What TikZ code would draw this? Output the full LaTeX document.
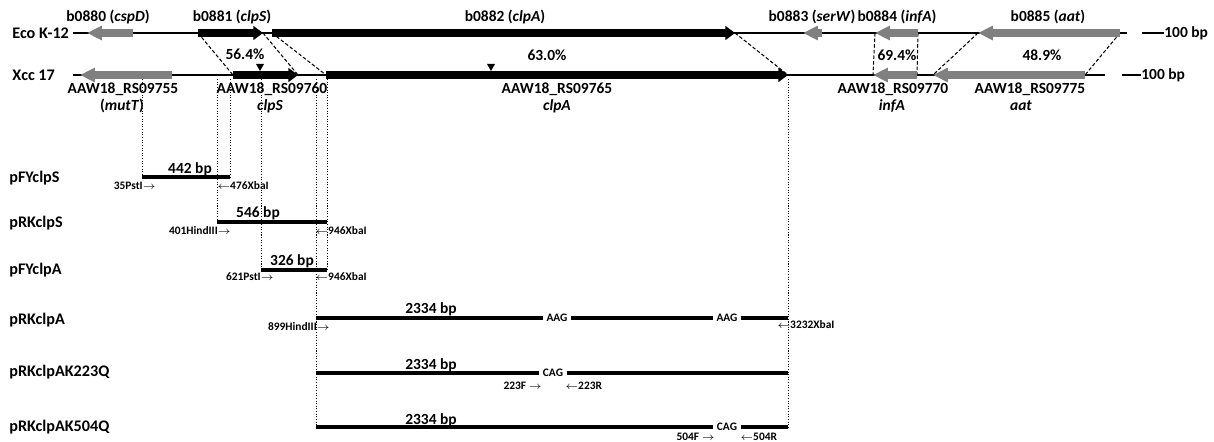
\documentclass[tikz,border=0pt]{standalone}
\usepackage{fontspec}
\setmainfont{Carlito}
\usepackage{tikz}
\usetikzlibrary{arrows.meta}

\begin{document}
\begin{tikzpicture}[
  x=0.02cm, y=-0.02cm,
  lbl/.style   = {font=\fontsize{8.8}{10}\selectfont\bfseries, inner sep=0pt},
  tag/.style   = {font=\fontsize{9.2}{11}\selectfont\bfseries, inner sep=0pt,
                  anchor=west},
  site/.style  = {font=\fontsize{6.5}{7}\selectfont\bfseries, inner sep=0pt},
  codon/.style = {font=\fontsize{6.5}{7}\selectfont\bfseries, fill=white,
                  inner xsep=2pt, inner ysep=1pt},
  chrom/.style = {line width=1.4pt},
  bgene/.style = {line width=4.8pt, -{Triangle[length=5.5pt,width=7.8pt]}},
  ggene/.style = {line width=4.2pt, gray, -{Triangle[length=8.5pt,width=7.8pt]}},
  hom/.style   = {dash pattern=on 2pt off 1.2pt, line width=0.6pt},
  guide/.style = {dash pattern=on 0.6pt off 0.9pt, line width=0.55pt},
  cons/.style  = {line width=2.2pt},
]

\useasboundingbox (0,0) rectangle (1214,442);

%% gene ends
\coordinate (e880-s) at (133,33);  \coordinate (e880-e) at (87,33);
\coordinate (e881-s) at (198,33);  \coordinate (e881-e) at (263,33);
\coordinate (e882-s) at (272,33);  \coordinate (e882-e) at (735,33);
\coordinate (e883-s) at (822,33);  \coordinate (e883-e) at (803,33);
\coordinate (e884-s) at (918,33);  \coordinate (e884-e) at (875,33);
\coordinate (e885-s) at (1120,33); \coordinate (e885-e) at (978,33);

\coordinate (x755-s) at (172,75);  \coordinate (x755-e) at (80,75);
\coordinate (x760-s) at (233,75);  \coordinate (x760-e) at (298,75);
\coordinate (x765-s) at (326,75);  \coordinate (x765-e) at (788,75);
\coordinate (x770-s) at (917,75);  \coordinate (x770-e) at (873,75);
\coordinate (x775-s) at (1085,75); \coordinate (x775-e) at (933,75);

%% homology links
\draw[hom] (e881-s) -- (x760-s);
\draw[hom] (e881-e) -- (x760-e);
\draw[hom] (e882-s) -- (x765-s);
\draw[hom] (e882-e) -- (x765-e);
\draw[hom] (e884-s) -- (x770-s);
\draw[hom] (e884-e) -- (x770-e);
\draw[hom] (e885-s) -- (x775-s);
\draw[hom] (e885-e) -- (x775-e);

%% chromosomes
\node[tag] (eco) at (12,33) {Eco K-12};
\node[tag] (xcc) at (12,75) {Xcc 17};
\coordinate (eco-l) at (73,33);  \coordinate (eco-r) at (1127,33);
\coordinate (xcc-l) at (73,75);  \coordinate (xcc-r) at (1105,75);
\draw[chrom] (eco-l) -- (eco-r);
\draw[chrom] (xcc-l) -- (xcc-r);

%% scale bars
\coordinate (bar1) at (1142,33);
\node[lbl, anchor=west] (bar1t) at (1164,33) {100 bp};
\draw[chrom] (bar1) -- (bar1t.west);
\coordinate (bar2) at (1122,75);
\node[lbl, anchor=west] (bar2t) at (1141,75) {100 bp};
\draw[chrom] (bar2) -- (bar2t.west);

%% genes
\draw[ggene] (e880-s) -- (e880-e);
\draw[bgene] (e881-s) -- (e881-e);
\draw[bgene] (e882-s) -- (e882-e);
\draw[ggene] (e883-s) -- (e883-e);
\draw[ggene] (e884-s) -- (e884-e);
\draw[ggene] (e885-s) -- (e885-e);

\draw[ggene] (x755-s) -- (x755-e);
\draw[bgene] (x760-s) -- (x760-e);
\draw[bgene] (x765-s) -- (x765-e);
\draw[ggene] (x770-s) -- (x770-e);
\draw[ggene] (x775-s) -- (x775-e);

\fill (260,71) -- (256,64) -- (264,64) -- cycle;
\fill (491,71) -- (487,64) -- (495,64) -- cycle;

%% gene labels
\node[lbl] (l880) at (108,17) {b0880 (\textit{cspD})};
\node[lbl] (l881) at (232,17) {b0881 (\textit{clpS})};
\node[lbl] (l882) at (505,17) {b0882 (\textit{clpA})};
\node[lbl] (l883) at (812,17) {b0883 (\textit{serW})};
\node[lbl] (l884) at (897,17) {b0884 (\textit{infA})};
\node[lbl] (l885) at (1048,17) {b0885 (\textit{aat})};

\node[lbl] (p1) at (245,54) {56.4\%};
\node[lbl] (p2) at (547,55) {63.0\%};
\node[lbl] (p3) at (897,55) {69.4\%};
\node[lbl] (p4) at (1042,55) {48.9\%};

\node[lbl] (l755) at (123,89)  {AAW18\_RS09755};
\node[lbl] (l755b) at (122,106) {(\textit{mutT})};
\node[lbl] (l760) at (272,89)  {AAW18\_RS09760};
\node[lbl] (l760b) at (270,106) {\textit{clpS}};
\node[lbl] (l765) at (557,89)  {AAW18\_RS09765};
\node[lbl] (l765b) at (557,106) {\textit{clpA}};
\node[lbl] (l770) at (893,89)  {AAW18\_RS09770};
\node[lbl] (l770b) at (892,106) {\textit{infA}};
\node[lbl] (l775) at (1030,89) {AAW18\_RS09775};
\node[lbl] (l775b) at (1021,106) {\textit{aat}};

%% constructs
\coordinate (gtop) at (0,79);
\coordinate (fys-l) at (142,177);  \coordinate (fys-r) at (230,177);
\coordinate (rks-l) at (217,222);  \coordinate (rks-r) at (327,222);
\coordinate (fya-l) at (261,270);  \coordinate (fya-r) at (327,270);
\coordinate (rka-l) at (316,318);  \coordinate (rka-r) at (788,318);
\coordinate (k223-l) at (316,373); \coordinate (k223-r) at (788,373);
\coordinate (k504-l) at (316,427); \coordinate (k504-r) at (788,427);

\draw[guide] (gtop -| fys-l) -- (fys-l);
\draw[guide] (gtop -| fys-r) -- (fys-r);
\draw[guide] (gtop -| rks-l) -- (rks-l);
\draw[guide] (gtop -| fya-l) -- (fya-l);
\draw[guide] (gtop -| fya-r) -- (fya-r);
\draw[guide] (gtop -| k504-l) -- (k504-l);
\draw[guide] (gtop -| k504-r) -- (k504-r);

\node[tag] (n1) at (9,178) {pFYclpS};
\node[tag] (n2) at (9,223) {pRKclpS};
\node[tag] (n3) at (9,270) {pFYclpA};
\node[tag] (n4) at (9,320) {pRKclpA};
\node[tag] (n5) at (9,372) {pRKclpAK223Q};
\node[tag] (n6) at (9,427) {pRKclpAK504Q};

\draw[cons] (fys-l) -- (fys-r);
\draw[cons] (rks-l) -- (rks-r);
\draw[cons] (fya-l) -- (fya-r);
\draw[cons] (rka-l) -- (rka-r);
\draw[cons] (k223-l) -- (k223-r);
\draw[cons] (k504-l) -- (k504-r);

\node[lbl] (s1) at (190,169) {442 bp};
\node[lbl] (s2) at (258,213) {546 bp};
\node[lbl] (s3) at (292,261) {326 bp};
\node[lbl] (s4) at (431,309) {2334 bp};
\node[lbl] (s5) at (431,365) {2334 bp};
\node[lbl] (s6) at (431,420) {2334 bp};

\node[codon] (c1) at (557,318) {AAG};
\node[codon] (c2) at (727,318) {AAG};
\node[codon] (c3) at (553,373) {CAG};
\node[codon] (c4) at (727,427) {CAG};

%% primers and sites
\node[site, anchor=east] (r1) at (156,186) {35PstI$\rightarrow$};
\node[site, anchor=west] (r2) at (217,186) {$\leftarrow$476XbaI};
\node[site, anchor=east] (r3) at (231,231) {401HindIII$\rightarrow$};
\node[site, anchor=west] (r4) at (315,231) {$\leftarrow$946XbaI};
\node[site, anchor=east] (r5) at (274,277) {621PstI$\rightarrow$};
\node[site, anchor=west] (r6) at (315,277) {$\leftarrow$946XbaI};
\node[site, anchor=east] (r7) at (330,327) {899HindIII$\rightarrow$};
\node[site, anchor=west] (r8) at (777,325) {$\leftarrow$3232XbaI};
\node[site, anchor=east] (r9) at (542,386) {223F $\rightarrow$};
\node[site, anchor=west] (r10) at (565,386) {$\leftarrow$223R};
\node[site, anchor=east] (r11) at (715,437) {504F $\rightarrow$};
\node[site, anchor=west] (r12) at (740,437) {$\leftarrow$504R};

\end{tikzpicture}
\end{document}
